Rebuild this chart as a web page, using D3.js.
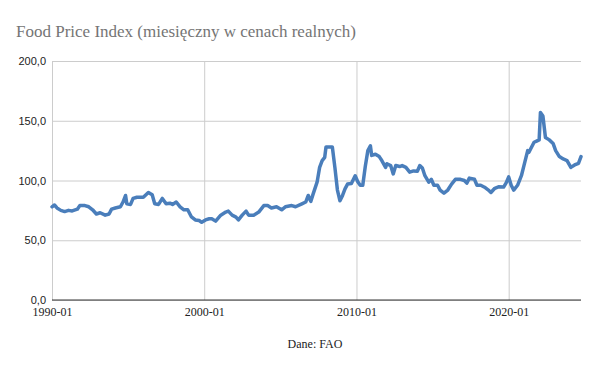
<!DOCTYPE html>
<html lang="pl">
<head>
<meta charset="utf-8">
<title>Food Price Index</title>
<script src="https://d3js.org/d3.v7.min.js"></script>
<style>
  body { margin: 0; background: #fff; }
  svg { display: block; }
</style>
</head>
<body>
<div id="chart"></div>
<script>

var months = [
  "1990-01","1990-03","1990-05","1990-08","1990-11","1991-02","1991-05","1991-09","1991-11","1992-03",
  "1992-06","1992-09","1992-12","1993-03","1993-07","1993-10","1993-12","1994-03","1994-07","1994-09",
  "1994-11","1994-12","1995-03","1995-05","1995-08","1995-11","1996-01","1996-05","1996-08","1996-10",
  "1997-01","1997-04","1997-07","1997-10","1997-12","1998-03","1998-06","1998-09","1998-12","1999-03",
  "1999-06","1999-09","1999-11","2000-02","2000-05","2000-07","2000-10","2001-02","2001-06","2001-08",
  "2001-11","2002-02","2002-04","2002-07","2002-10","2002-12","2003-04","2003-08","2003-12","2004-03",
  "2004-06","2004-10","2005-02","2005-05","2005-10","2006-01","2006-06","2006-09","2006-11","2007-01",
  "2007-03","2007-06","2007-08","2007-10","2007-12","2008-01","2008-03","2008-06","2008-08","2008-10",
  "2008-12","2009-02","2009-04","2009-06","2009-09","2009-12","2010-02","2010-04","2010-06","2010-08",
  "2010-10","2010-12","2011-01","2011-04","2011-07","2011-09","2011-12","2012-01","2012-04","2012-06",
  "2012-08","2012-11","2013-01","2013-04","2013-07","2013-10","2014-01","2014-03","2014-05","2014-07",
  "2014-10","2014-12","2015-02","2015-05","2015-07","2015-10","2016-01","2016-04","2016-07","2016-11",
  "2017-02","2017-04","2017-06","2017-10","2017-12","2018-03","2018-06","2018-09","2018-11","2019-02",
  "2019-05","2019-09","2019-11","2020-01","2020-03","2020-05","2020-08","2020-11","2021-01","2021-04",
  "2021-05","2021-07","2021-09","2021-11","2022-01","2022-02","2022-04","2022-06","2022-09","2022-12",
  "2023-02","2023-05","2023-08","2023-11","2024-02","2024-05","2024-08","2024-10"];
var values = [
  78, 79.5, 77, 75, 74, 75, 74.5, 76, 79, 79,
  78, 75.5, 72, 73, 71, 72, 76, 77, 78, 82,
  87.5, 80.5, 80, 85, 86, 86, 86, 90, 88, 80.5,
  80, 85, 80.5, 81, 80, 82, 78, 75.5, 75.5, 69.5,
  67, 66.5, 65, 67, 68, 68, 66, 71, 73.6, 74.4,
  71, 69.4, 67, 71, 74.4, 71, 71, 73.6, 79, 79,
  77, 78, 75.5, 78, 79, 78, 80.5, 82, 87.5, 82.5,
  89, 98.6, 111, 116.7, 119.4, 128, 128, 128, 111, 92,
  83, 87.5, 93, 97, 97.5, 104, 99, 96, 96, 112,
  125, 129, 121, 122, 120, 116.7, 111, 114, 112.5, 105.5,
  112.5, 111.7, 112.5, 111, 107, 108, 107.8, 112.5, 110.5, 104,
  98.6, 101, 96, 96, 92, 89.4, 92, 97, 101, 101,
  100, 97.8, 102, 101, 96, 96, 94.4, 92, 90, 93.5,
  94.7, 94.5, 98, 103, 96, 92, 96, 104, 112.5, 125,
  123.6, 127.8, 132, 133, 134, 157, 154, 136, 134, 131,
  125, 120, 118, 116.7, 111, 113, 114.4, 120];
var yTicks = [0, 50, 100, 150, 200];
var xTicks = ["1990-01", "2000-01", "2010-01", "2020-01"];

var width = 600, height = 371;
var margin = {top: 61, right: 19, bottom: 71, left: 52};

var parse = d3.timeParse("%Y-%m");
var data = months.map(function(m, i) { return {date: parse(m), value: values[i]}; });

var svg = d3.select("#chart")
  .append("svg")
  .attr("width", width)
  .attr("height", height);

var x = d3.scaleTime()
  .domain(d3.extent(data, function(d) { return d.date; }))
  .range([margin.left, width - margin.right]);

var y = d3.scaleLinear()
  .domain([0, 200])
  .range([height - margin.bottom, margin.top]);

// title
svg.append("text")
  .attr("x", 16)
  .attr("y", 37)
  .attr("font-family", "'Liberation Serif', serif")
  .attr("font-size", 17)
  .attr("fill", "#757575")
  .text("Food Price Index (miesięczny w cenach realnych)");

// horizontal grid + y labels
var yAxis = d3.axisLeft(y)
  .tickValues(yTicks)
  .tickSize(-(width - margin.left - margin.right))
  .tickPadding(6)
  .tickFormat(function(d) { return d3.format(".1f")(d).replace(".", ","); });

svg.append("g")
  .attr("transform", "translate(" + margin.left + ",0)")
  .call(yAxis)
  .call(function(g) {
    g.select(".domain").remove();
    g.selectAll("line").attr("stroke", "#cccccc");
    g.selectAll("text")
      .attr("font-family", "'Liberation Sans', Arial, sans-serif")
      .attr("font-size", 11)
      .attr("fill", "#222");
  });

// vertical grid + x labels
var xAxis = d3.axisBottom(x)
  .tickValues(xTicks.map(parse))
  .tickSize(-(height - margin.top - margin.bottom))
  .tickPadding(7)
  .tickFormat(d3.timeFormat("%Y-%m"));

svg.append("g")
  .attr("transform", "translate(0," + (height - margin.bottom) + ")")
  .call(xAxis)
  .call(function(g) {
    g.select(".domain").remove();
    g.selectAll("line").attr("stroke", "#cccccc");
    g.selectAll("text")
      .attr("font-family", "'Liberation Serif', serif")
      .attr("font-size", 12)
      .attr("fill", "#222");
  });

// baseline
svg.append("line")
  .attr("x1", margin.left)
  .attr("x2", width - margin.right)
  .attr("y1", y(0))
  .attr("y2", y(0))
  .attr("stroke", "#333")
  .attr("stroke-width", 1);

// the series
var line = d3.line()
  .x(function(d) { return x(d.date); })
  .y(function(d) { return y(d.value); });

svg.append("path")
  .datum(data)
  .attr("fill", "none")
  .attr("stroke", "#4a7ebb")
  .attr("stroke-width", 3.5)
  .attr("stroke-linejoin", "round")
  .attr("stroke-linecap", "round")
  .attr("d", line);

// source
svg.append("text")
  .attr("x", 315)
  .attr("y", 348)
  .attr("text-anchor", "middle")
  .attr("font-family", "'Liberation Serif', serif")
  .attr("font-size", 12)
  .attr("fill", "#222")
  .text("Dane: FAO");

</script>
</body>
</html>
